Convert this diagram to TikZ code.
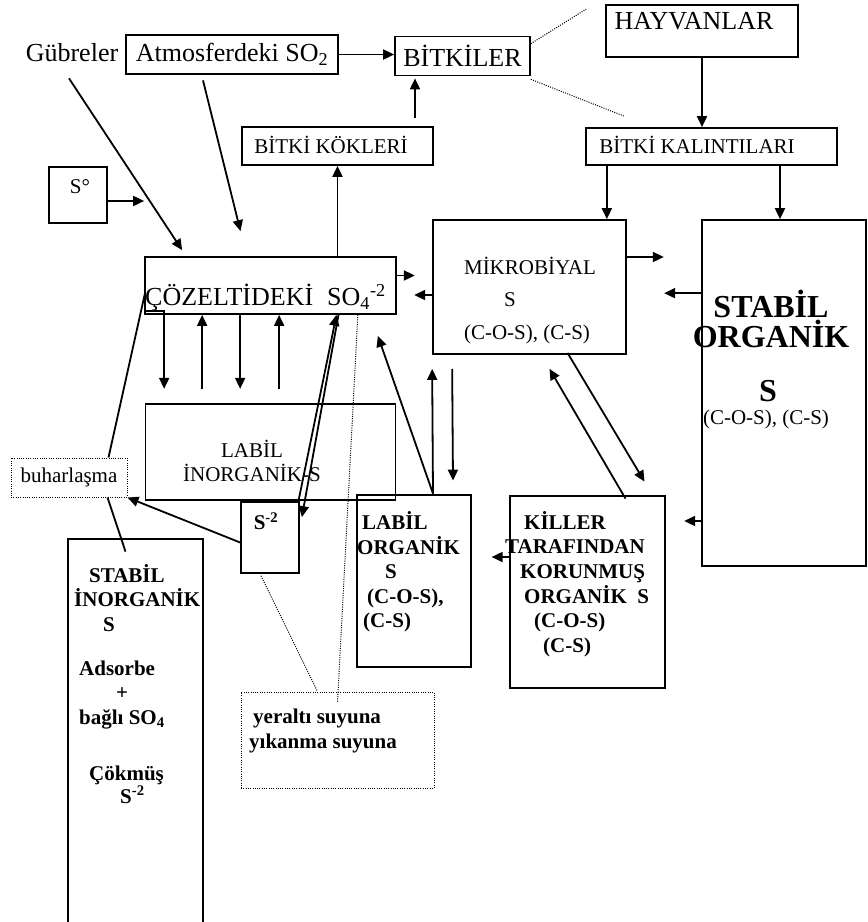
\documentclass[tikz,border=0pt]{standalone}
\usepackage{fontspec}
\setmainfont{Liberation Serif}
\usetikzlibrary{arrows.meta}
\usetikzlibrary{calc,positioning}
\newcommand\fbig{\fontsize{26}{28}\selectfont}
\newcommand\fmid{\fontsize{21}{24.6}\selectfont}
\newcommand\fhuge{\fontsize{32}{30}\selectfont\bfseries}
\tikzset{
  box/.style={draw, line width=1.7pt, inner sep=0pt},
  thickbox/.style={draw, line width=2.8pt, inner sep=0pt},
  dotbox/.style={draw, line width=1pt, dash pattern=on 1pt off 1.3pt, inner sep=0pt},
  lbl/.style={inner sep=0pt},
  arr/.style={-{Triangle[length=11pt,width=10pt]}, line width=1.8pt},
  ln/.style={line width=1.8pt},
  dln/.style={line width=1pt, dash pattern=on 1pt off 1.3pt},
}
\begin{document}
\begin{tikzpicture}[x=1pt,y=-1pt]
            \useasboundingbox (0,0) rectangle (868,922);

            % top row
            \node[lbl, font=\fbig] (gub) at (72,53) {Gübreler};
            \node[thickbox, minimum width=212pt, minimum height=39pt, font=\fbig] (atm) at (232,54.5) {Atmosferdeki SO\textsubscript{2}};
            \node[box, minimum width=135pt, minimum height=39pt, font=\fbig] (bitkiler) at (462.5,56) {BİTKİLER};
            \node[box, minimum width=192pt, minimum height=52pt] (hayvan) at (702,31) {};
            \node[lbl, font=\fbig] (hayvantxt) at (694,21) {HAYVANLAR};
            \node[box, minimum width=191pt, minimum height=38pt] (kokler) at (337.5,146) {};
            \node[lbl, font=\fmid] (koklertxt) at (331,145) {BİTKİ KÖKLERİ};
            \node[box, minimum width=251pt, minimum height=37pt] (kalinti) at (711.5,146.5) {};
            \node[lbl, font=\fmid] (kalintitxt) at (697,145) {BİTKİ KALINTILARI};

            % middle
            \node[box, minimum width=58pt, minimum height=56pt] (s0) at (78,195) {};
            \node[lbl, font=\fmid] (s0txt) at (80,187) {S°};
            \node[box, minimum width=251pt, minimum height=57pt] (coz) at (270.5,285.5) {};
            \node[lbl, font=\fbig, anchor=west] (coztxt) at (145,298) {ÇÖZELTİDEKİ\hspace{14pt}SO\textsubscript{4}\textsuperscript{-2}};
            \node[box, minimum width=193pt, minimum height=134pt] (mikro) at (529.5,287) {};
            \node[lbl, font=\fmid] (mikro1) at (530,266) {MİKROBİYAL};
            \node[lbl, font=\fmid] (mikro2) at (510,300) {S};
            \node[lbl, font=\fmid] (mikro3) at (527,334) {(C-O-S), (C-S)};
            \node[box, minimum width=164pt, minimum height=346pt] (stabilorg) at (784,393) {};
            \node[lbl, font=\fhuge, align=center] (stabilorgtxt) at (771,319) {STABİL\\ORGANİK};
            \node[lbl, font=\fhuge] (stabilorgS) at (768,391) {S};
            \node[lbl, font=\fmid] (stabilorgC) at (766,419) {(C-O-S), (C-S)};
            \node[box, minimum width=250pt, minimum height=96pt] (labilin) at (270.5,452) {};
            \node[lbl, font=\fmid, align=center] (labilintxt) at (252,461) {LABİL\\İNORGANİK-S};
            \node[box, minimum width=58pt, minimum height=71pt] (s2) at (270,537.5) {};
            \node[lbl, font=\fmid\bfseries] (s2txt) at (266,521) {S\textsuperscript{-2}};
            \node[dotbox, minimum width=116pt, minimum height=39pt, font=\fmid] (buhar) at (69,477.5) {buharlaşma};

            % bottom
            \node[thickbox, minimum width=135pt, minimum height=385pt] (stabilin) at (135.5,731.5) {};
            \node[lbl, font=\fmid\bfseries, align=left, anchor=west] (stabilin1) at (74,598) {\hspace*{15pt}STABİL\\İNORGANİK\\\hspace*{29pt}S};
            \node[lbl, font=\fmid\bfseries, align=left, anchor=west] (stabilin2) at (79,695) {Adsorbe\\\hspace*{37pt}+\\bağlı SO\textsubscript{4}};
            \node[lbl, font=\fmid\bfseries, align=left, anchor=west] (stabilin3) at (89,785) {Çökmüş\\[-2pt]\hspace*{31pt}S\textsuperscript{-2}};
            \node[thickbox, minimum width=114pt, minimum height=172pt] (labilorg) at (414,581) {};
            \node[lbl, font=\fmid\bfseries, align=left, anchor=west] (labilorgtxt) at (357,572) {\hspace*{5pt}LABİL\\ORGANİK\\\hspace*{28pt}S\\\hspace*{10pt}(C-O-S),\\\hspace*{6pt}(C-S)};
            \node[thickbox, minimum width=155pt, minimum height=192pt] (killer) at (587.5,592) {};
            \node[lbl, font=\fmid\bfseries, align=left, anchor=west] (killertxt) at (505,584) {\hspace*{19pt}KİLLER\\TARAFINDAN\\\hspace*{15pt}KORUNMUŞ\\\hspace*{19pt}ORGANİK\ \ S\\\hspace*{29pt}(C-O-S)\\\hspace*{38pt}(C-S)};
            \node[dotbox, minimum width=193pt, minimum height=96pt] (yeralti) at (337.5,740) {};
            \node[lbl, font=\fmid\bfseries, align=left, anchor=west] (yeraltitxt) at (249,731) {\hspace*{4pt}yeraltı suyuna\\yıkanma suyuna};

            % arrows, top
            \draw[arr] (atm.east) -- (atm.east -| bitkiler.west);
            \draw[arr] ($(bitkiler.south)+(-47.5,42)$) -- ($(bitkiler.south)+(-47.5,2)$);
            \draw[dln] ($(bitkiler.north east)+(0,8)$) -- ($(hayvan.north west)+(-19,5)$);
            \draw[dln] ($(bitkiler.south east)+(0,3)$) -- ($(kalinti.north west)+(39,-11)$);
            \draw[arr] (hayvan.south) -- (hayvan.south |- kalinti.north);
            \draw[arr] ($(kalinti.south -| mikro.north east)+(-20,0)$) -- ($(mikro.north east)+(-20,0)$);
            \draw[arr] ($(kalinti.south -| stabilorg.north)+(-4,0)$) -- ($(stabilorg.north)+(-4,0)$);
            \draw[arr] (coz.north -| kokler.south) -- (kokler.south);
            \draw[arr] ($(s0.east)+(0,6)$) -- ($(s0.east -| coz.west)+(0,6)$);
            \draw[arr] ($(gub.south)+(-3,16)$) -- ($(coz.north west)+(38,-6)$);
            \draw[arr] ($(atm.south)+(-29,5)$) -- ($(coz.north)+(-30,-25)$);

            % arrows, middle
            \draw[arr] ($(coz.east)+(0,-10)$) -- ++(18,0);
            \draw[arr] ($(mikro.west)+(0,8)$) -- ++(-18,0);
            \draw[arr] ($(mikro.east)+(0,-30)$) -- ++(37,0);
            \draw[arr] ($(stabilorg.north west)+(0,74)$) -- ++(-37,0);
            \draw[arr] ($(coz.south west)+(2,-4)$) -| ($(coz.south west)+(20,74)$);
            \draw[arr] ($(coz.south west)+(58,74)$) -- ($(coz.south west)+(58,0)$);
            \draw[arr] ($(coz.south west)+(96,0)$) -- ($(coz.south west)+(96,74)$);
            \draw[arr] ($(coz.south west)+(135,74)$) -- ($(coz.south west)+(135,0)$);
            \draw[arr] ($(s2.north east)+(-1,-2)$) -- ($(coz.south)+(66,0)$);
            \draw[arr] ($(coz.south)+(68,0)$) -- ($(s2.north east)+(2,16)$);
            \draw[arr] ($(labilorg.north)+(19,0)$) -- ($(mikro.south west)+(0,14)$);
            \draw[arr] ($(mikro.south west)+(20,14)$) -- ($(labilorg.north)+(39,-13)$);
            \draw[arr] ($(labilorg.north)+(19,0)$) -- ($(coz.south east)+(-19,21)$);
            \draw[arr] ($(killer.north)+(38,4)$) -- ($(mikro.south)+(20,14)$);
            \draw[arr] ($(mikro.south)+(38,-2)$) -- ($(killer.north)+(57,-13)$);
            \draw[arr] ($(killer.west)+(0,-35)$) -- ++(-17,0);
            \draw[arr] ($(stabilorg.west)+(0,128)$) -- ++(-17,0);

            % left side
            \draw[arr] ($(s2.west)+(0,5)$) -- (buhar.south east);
            \draw[ln] ($(coz.west)+(1,7)$) -- ($(buhar.north east)+(-19,0)$);
            \draw[ln] ($(buhar.south east)+(-20,0)$) -- ($(stabilin.north)+(-10,14)$);
            \draw[dln] ($(s2.south)+(-9,2)$) -- ($(yeralti.north west)+(77,0)$);
            \draw[dln] ($(coz.south east)+(-39,0)$) -- ($(yeralti.north west)+(97,11)$);
        \end{tikzpicture}
\end{document}
